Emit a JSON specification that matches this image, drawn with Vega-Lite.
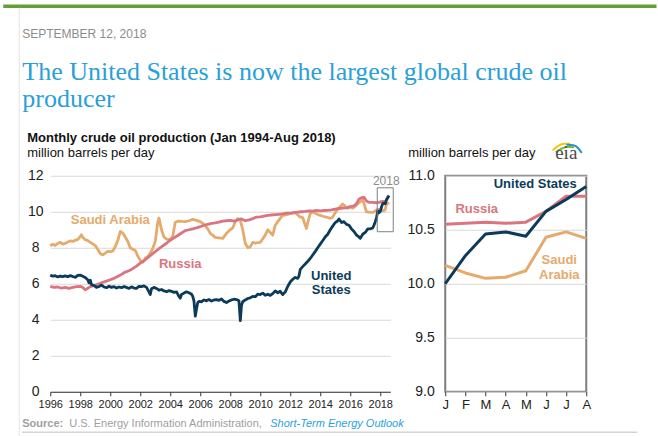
{
  "$schema": "https://vega.github.io/schema/vega-lite/v6.json",
  "padding": {"left": 1.25, "top": 3.75, "right": 0, "bottom": 0},
  "background": "white",
  "config": {
    "view": {"stroke": null},
    "font": "Liberation Sans",
    "axis": {"labelFont": "Liberation Sans", "labelColor": "#222222"}
  },
  "datasets": {
    "hist": [
      {"s":"US","t":1996,"v":6.48},{"s":"US","t":1996.17,"v":6.42},{"s":"US","t":1996.33,"v":6.45},{"s":"US","t":1996.5,"v":6.38},{"s":"US","t":1996.67,"v":6.43},{"s":"US","t":1996.83,"v":6.4},{"s":"US","t":1997,"v":6.44},{"s":"US","t":1997.17,"v":6.39},{"s":"US","t":1997.33,"v":6.45},{"s":"US","t":1997.5,"v":6.4},{"s":"US","t":1997.67,"v":6.36},{"s":"US","t":1997.83,"v":6.46},{"s":"US","t":1998,"v":6.48},{"s":"US","t":1998.17,"v":6.42},{"s":"US","t":1998.33,"v":6.35},{"s":"US","t":1998.5,"v":6.22},{"s":"US","t":1998.58,"v":6.05},{"s":"US","t":1998.67,"v":6.2},{"s":"US","t":1998.75,"v":5.95},{"s":"US","t":1998.92,"v":5.9},{"s":"US","t":1999.08,"v":5.8},{"s":"US","t":1999.25,"v":5.85},{"s":"US","t":1999.42,"v":5.92},{"s":"US","t":1999.58,"v":5.82},{"s":"US","t":1999.75,"v":5.78},{"s":"US","t":1999.92,"v":5.86},{"s":"US","t":2000.08,"v":5.8},{"s":"US","t":2000.25,"v":5.84},{"s":"US","t":2000.42,"v":5.76},{"s":"US","t":2000.58,"v":5.82},{"s":"US","t":2000.75,"v":5.78},{"s":"US","t":2000.92,"v":5.85},{"s":"US","t":2001.08,"v":5.8},{"s":"US","t":2001.25,"v":5.74},{"s":"US","t":2001.42,"v":5.83},{"s":"US","t":2001.58,"v":5.76},{"s":"US","t":2001.75,"v":5.74},{"s":"US","t":2001.92,"v":5.86},{"s":"US","t":2002.08,"v":5.84},{"s":"US","t":2002.25,"v":5.88},{"s":"US","t":2002.42,"v":5.8},{"s":"US","t":2002.58,"v":5.55},{"s":"US","t":2002.67,"v":5.4},{"s":"US","t":2002.75,"v":5.72},{"s":"US","t":2002.92,"v":5.8},{"s":"US","t":2003.08,"v":5.74},{"s":"US","t":2003.25,"v":5.64},{"s":"US","t":2003.42,"v":5.68},{"s":"US","t":2003.58,"v":5.6},{"s":"US","t":2003.75,"v":5.56},{"s":"US","t":2003.92,"v":5.62},{"s":"US","t":2004.08,"v":5.58},{"s":"US","t":2004.25,"v":5.52},{"s":"US","t":2004.42,"v":5.55},{"s":"US","t":2004.58,"v":5.3},{"s":"US","t":2004.67,"v":5.2},{"s":"US","t":2004.75,"v":5.4},{"s":"US","t":2004.92,"v":5.48},{"s":"US","t":2005.08,"v":5.55},{"s":"US","t":2005.25,"v":5.5},{"s":"US","t":2005.42,"v":5.42},{"s":"US","t":2005.5,"v":5.3},{"s":"US","t":2005.58,"v":5.05},{"s":"US","t":2005.67,"v":4.2},{"s":"US","t":2005.75,"v":4.6},{"s":"US","t":2005.83,"v":4.95},{"s":"US","t":2005.92,"v":5.02},{"s":"US","t":2006.08,"v":5.0},{"s":"US","t":2006.25,"v":5.1},{"s":"US","t":2006.42,"v":5.05},{"s":"US","t":2006.58,"v":5.12},{"s":"US","t":2006.75,"v":5.04},{"s":"US","t":2006.92,"v":5.1},{"s":"US","t":2007.08,"v":5.12},{"s":"US","t":2007.25,"v":5.08},{"s":"US","t":2007.42,"v":5.15},{"s":"US","t":2007.58,"v":5.02},{"s":"US","t":2007.75,"v":4.96},{"s":"US","t":2007.92,"v":5.04},{"s":"US","t":2008.08,"v":5.1},{"s":"US","t":2008.25,"v":5.14},{"s":"US","t":2008.42,"v":5.12},{"s":"US","t":2008.58,"v":5.05},{"s":"US","t":2008.67,"v":3.95},{"s":"US","t":2008.75,"v":4.8},{"s":"US","t":2008.83,"v":5.0},{"s":"US","t":2009,"v":5.1},{"s":"US","t":2009.17,"v":5.18},{"s":"US","t":2009.33,"v":5.22},{"s":"US","t":2009.5,"v":5.3},{"s":"US","t":2009.67,"v":5.28},{"s":"US","t":2009.83,"v":5.42},{"s":"US","t":2010,"v":5.4},{"s":"US","t":2010.17,"v":5.48},{"s":"US","t":2010.33,"v":5.36},{"s":"US","t":2010.5,"v":5.42},{"s":"US","t":2010.67,"v":5.35},{"s":"US","t":2010.83,"v":5.45},{"s":"US","t":2011,"v":5.6},{"s":"US","t":2011.17,"v":5.5},{"s":"US","t":2011.33,"v":5.58},{"s":"US","t":2011.5,"v":5.4},{"s":"US","t":2011.67,"v":5.55},{"s":"US","t":2011.83,"v":5.85},{"s":"US","t":2012,"v":6.1},{"s":"US","t":2012.17,"v":6.25},{"s":"US","t":2012.33,"v":6.35},{"s":"US","t":2012.5,"v":6.3},{"s":"US","t":2012.58,"v":6.42},{"s":"US","t":2012.67,"v":6.8},{"s":"US","t":2012.83,"v":6.95},{"s":"US","t":2013,"v":7.1},{"s":"US","t":2013.17,"v":7.25},{"s":"US","t":2013.33,"v":7.4},{"s":"US","t":2013.5,"v":7.6},{"s":"US","t":2013.67,"v":7.8},{"s":"US","t":2013.83,"v":8.0},{"s":"US","t":2014,"v":8.2},{"s":"US","t":2014.17,"v":8.4},{"s":"US","t":2014.33,"v":8.6},{"s":"US","t":2014.5,"v":8.75},{"s":"US","t":2014.67,"v":9.0},{"s":"US","t":2014.83,"v":9.2},{"s":"US","t":2015,"v":9.4},{"s":"US","t":2015.17,"v":9.5},{"s":"US","t":2015.25,"v":9.6},{"s":"US","t":2015.42,"v":9.4},{"s":"US","t":2015.58,"v":9.45},{"s":"US","t":2015.75,"v":9.3},{"s":"US","t":2015.92,"v":9.25},{"s":"US","t":2016.08,"v":9.05},{"s":"US","t":2016.25,"v":8.9},{"s":"US","t":2016.42,"v":8.7},{"s":"US","t":2016.58,"v":8.6},{"s":"US","t":2016.67,"v":8.52},{"s":"US","t":2016.83,"v":8.75},{"s":"US","t":2017,"v":8.85},{"s":"US","t":2017.17,"v":9.05},{"s":"US","t":2017.33,"v":9.05},{"s":"US","t":2017.5,"v":9.1},{"s":"US","t":2017.58,"v":9.25},{"s":"US","t":2017.67,"v":9.45},{"s":"US","t":2017.75,"v":9.65},{"s":"US","t":2017.83,"v":10.05},{"s":"US","t":2017.92,"v":9.95},{"s":"US","t":2018,"v":10.0},{"s":"US","t":2018.083,"v":10.26},{"s":"US","t":2018.167,"v":10.46},{"s":"US","t":2018.25,"v":10.48},{"s":"US","t":2018.333,"v":10.44},{"s":"US","t":2018.417,"v":10.67},{"s":"US","t":2018.5,"v":10.78},{"s":"US","t":2018.583,"v":10.9},
      {"s":"RU","t":1996,"v":5.85},{"s":"RU","t":1996.25,"v":5.8},{"s":"RU","t":1996.5,"v":5.82},{"s":"RU","t":1996.75,"v":5.76},{"s":"RU","t":1997,"v":5.8},{"s":"RU","t":1997.25,"v":5.74},{"s":"RU","t":1997.5,"v":5.8},{"s":"RU","t":1997.75,"v":5.84},{"s":"RU","t":1998,"v":5.86},{"s":"RU","t":1998.17,"v":5.8},{"s":"RU","t":1998.33,"v":5.66},{"s":"RU","t":1998.5,"v":5.75},{"s":"RU","t":1998.67,"v":5.84},{"s":"RU","t":1998.83,"v":5.88},{"s":"RU","t":1999,"v":5.93},{"s":"RU","t":1999.25,"v":6.0},{"s":"RU","t":1999.5,"v":6.08},{"s":"RU","t":1999.75,"v":6.15},{"s":"RU","t":2000,"v":6.22},{"s":"RU","t":2000.25,"v":6.3},{"s":"RU","t":2000.5,"v":6.4},{"s":"RU","t":2000.75,"v":6.52},{"s":"RU","t":2001,"v":6.65},{"s":"RU","t":2001.25,"v":6.72},{"s":"RU","t":2001.5,"v":6.84},{"s":"RU","t":2001.75,"v":6.98},{"s":"RU","t":2002,"v":7.15},{"s":"RU","t":2002.25,"v":7.28},{"s":"RU","t":2002.5,"v":7.45},{"s":"RU","t":2002.75,"v":7.62},{"s":"RU","t":2003,"v":7.78},{"s":"RU","t":2003.25,"v":7.95},{"s":"RU","t":2003.5,"v":8.1},{"s":"RU","t":2003.75,"v":8.25},{"s":"RU","t":2004,"v":8.42},{"s":"RU","t":2004.25,"v":8.55},{"s":"RU","t":2004.5,"v":8.68},{"s":"RU","t":2004.75,"v":8.82},{"s":"RU","t":2005,"v":8.95},{"s":"RU","t":2005.25,"v":9.0},{"s":"RU","t":2005.5,"v":9.05},{"s":"RU","t":2005.75,"v":9.1},{"s":"RU","t":2006,"v":9.17},{"s":"RU","t":2006.25,"v":9.25},{"s":"RU","t":2006.5,"v":9.3},{"s":"RU","t":2006.75,"v":9.35},{"s":"RU","t":2007,"v":9.38},{"s":"RU","t":2007.25,"v":9.42},{"s":"RU","t":2007.5,"v":9.48},{"s":"RU","t":2007.75,"v":9.5},{"s":"RU","t":2008,"v":9.52},{"s":"RU","t":2008.25,"v":9.48},{"s":"RU","t":2008.5,"v":9.55},{"s":"RU","t":2008.75,"v":9.6},{"s":"RU","t":2009,"v":9.5},{"s":"RU","t":2009.25,"v":9.55},{"s":"RU","t":2009.5,"v":9.62},{"s":"RU","t":2009.75,"v":9.7},{"s":"RU","t":2010,"v":9.72},{"s":"RU","t":2010.25,"v":9.76},{"s":"RU","t":2010.5,"v":9.8},{"s":"RU","t":2010.75,"v":9.82},{"s":"RU","t":2011,"v":9.84},{"s":"RU","t":2011.25,"v":9.86},{"s":"RU","t":2011.5,"v":9.88},{"s":"RU","t":2011.75,"v":9.92},{"s":"RU","t":2012,"v":9.92},{"s":"RU","t":2012.25,"v":9.95},{"s":"RU","t":2012.5,"v":9.98},{"s":"RU","t":2012.75,"v":10.0},{"s":"RU","t":2013,"v":10.02},{"s":"RU","t":2013.25,"v":10.05},{"s":"RU","t":2013.5,"v":10.04},{"s":"RU","t":2013.75,"v":10.08},{"s":"RU","t":2014,"v":10.05},{"s":"RU","t":2014.25,"v":10.07},{"s":"RU","t":2014.5,"v":10.08},{"s":"RU","t":2014.75,"v":10.1},{"s":"RU","t":2015,"v":10.15},{"s":"RU","t":2015.25,"v":10.18},{"s":"RU","t":2015.5,"v":10.2},{"s":"RU","t":2015.75,"v":10.22},{"s":"RU","t":2016,"v":10.28},{"s":"RU","t":2016.25,"v":10.32},{"s":"RU","t":2016.42,"v":10.45},{"s":"RU","t":2016.58,"v":10.7},{"s":"RU","t":2016.75,"v":10.78},{"s":"RU","t":2016.92,"v":10.8},{"s":"RU","t":2017.08,"v":10.6},{"s":"RU","t":2017.25,"v":10.52},{"s":"RU","t":2017.5,"v":10.52},{"s":"RU","t":2017.75,"v":10.5},{"s":"RU","t":2017.92,"v":10.52},{"s":"RU","t":2018,"v":10.55},{"s":"RU","t":2018.083,"v":10.56},{"s":"RU","t":2018.167,"v":10.57},{"s":"RU","t":2018.25,"v":10.56},{"s":"RU","t":2018.333,"v":10.57},{"s":"RU","t":2018.417,"v":10.67},{"s":"RU","t":2018.5,"v":10.81},{"s":"RU","t":2018.583,"v":10.81},
      {"s":"SA","t":1996,"v":8.1},{"s":"SA","t":1996.17,"v":8.2},{"s":"SA","t":1996.33,"v":8.12},{"s":"SA","t":1996.5,"v":8.25},{"s":"SA","t":1996.67,"v":8.3},{"s":"SA","t":1996.83,"v":8.2},{"s":"SA","t":1997,"v":8.24},{"s":"SA","t":1997.17,"v":8.32},{"s":"SA","t":1997.33,"v":8.38},{"s":"SA","t":1997.5,"v":8.35},{"s":"SA","t":1997.67,"v":8.42},{"s":"SA","t":1997.83,"v":8.45},{"s":"SA","t":1998,"v":8.62},{"s":"SA","t":1998.08,"v":8.72},{"s":"SA","t":1998.17,"v":8.58},{"s":"SA","t":1998.33,"v":8.45},{"s":"SA","t":1998.5,"v":8.4},{"s":"SA","t":1998.67,"v":8.3},{"s":"SA","t":1998.83,"v":8.22},{"s":"SA","t":1999,"v":8.12},{"s":"SA","t":1999.17,"v":7.9},{"s":"SA","t":1999.33,"v":7.68},{"s":"SA","t":1999.5,"v":7.6},{"s":"SA","t":1999.67,"v":7.7},{"s":"SA","t":1999.83,"v":7.8},{"s":"SA","t":2000,"v":7.78},{"s":"SA","t":2000.17,"v":7.82},{"s":"SA","t":2000.33,"v":8.05},{"s":"SA","t":2000.5,"v":8.4},{"s":"SA","t":2000.67,"v":8.9},{"s":"SA","t":2000.83,"v":8.82},{"s":"SA","t":2001,"v":8.6},{"s":"SA","t":2001.17,"v":8.35},{"s":"SA","t":2001.33,"v":8.0},{"s":"SA","t":2001.5,"v":7.92},{"s":"SA","t":2001.67,"v":7.85},{"s":"SA","t":2001.83,"v":7.55},{"s":"SA","t":2002,"v":7.3},{"s":"SA","t":2002.17,"v":7.2},{"s":"SA","t":2002.33,"v":7.42},{"s":"SA","t":2002.5,"v":7.5},{"s":"SA","t":2002.67,"v":7.7},{"s":"SA","t":2002.83,"v":7.95},{"s":"SA","t":2003,"v":8.35},{"s":"SA","t":2003.17,"v":9.45},{"s":"SA","t":2003.25,"v":9.65},{"s":"SA","t":2003.42,"v":9.0},{"s":"SA","t":2003.58,"v":8.6},{"s":"SA","t":2003.75,"v":8.48},{"s":"SA","t":2004,"v":8.45},{"s":"SA","t":2004.17,"v":8.65},{"s":"SA","t":2004.33,"v":9.4},{"s":"SA","t":2004.5,"v":9.48},{"s":"SA","t":2004.75,"v":9.46},{"s":"SA","t":2005,"v":9.45},{"s":"SA","t":2005.25,"v":9.5},{"s":"SA","t":2005.5,"v":9.58},{"s":"SA","t":2005.75,"v":9.52},{"s":"SA","t":2006,"v":9.45},{"s":"SA","t":2006.25,"v":9.3},{"s":"SA","t":2006.5,"v":9.05},{"s":"SA","t":2006.67,"v":8.8},{"s":"SA","t":2006.83,"v":8.7},{"s":"SA","t":2007,"v":8.58},{"s":"SA","t":2007.25,"v":8.55},{"s":"SA","t":2007.5,"v":8.52},{"s":"SA","t":2007.75,"v":8.8},{"s":"SA","t":2008,"v":9.0},{"s":"SA","t":2008.17,"v":9.1},{"s":"SA","t":2008.33,"v":9.45},{"s":"SA","t":2008.5,"v":9.62},{"s":"SA","t":2008.67,"v":9.55},{"s":"SA","t":2008.83,"v":9.0},{"s":"SA","t":2009,"v":8.25},{"s":"SA","t":2009.17,"v":8.0},{"s":"SA","t":2009.33,"v":8.05},{"s":"SA","t":2009.5,"v":8.3},{"s":"SA","t":2009.67,"v":8.25},{"s":"SA","t":2009.83,"v":8.28},{"s":"SA","t":2010,"v":8.3},{"s":"SA","t":2010.17,"v":8.5},{"s":"SA","t":2010.33,"v":8.7},{"s":"SA","t":2010.5,"v":9.0},{"s":"SA","t":2010.67,"v":8.85},{"s":"SA","t":2010.83,"v":8.7},{"s":"SA","t":2011,"v":9.25},{"s":"SA","t":2011.17,"v":9.45},{"s":"SA","t":2011.33,"v":9.63},{"s":"SA","t":2011.5,"v":9.8},{"s":"SA","t":2011.67,"v":9.82},{"s":"SA","t":2011.83,"v":9.85},{"s":"SA","t":2012,"v":9.9},{"s":"SA","t":2012.17,"v":9.92},{"s":"SA","t":2012.33,"v":9.96},{"s":"SA","t":2012.5,"v":9.82},{"s":"SA","t":2012.67,"v":9.7},{"s":"SA","t":2012.83,"v":9.68},{"s":"SA","t":2013,"v":9.25},{"s":"SA","t":2013.08,"v":9.07},{"s":"SA","t":2013.17,"v":9.4},{"s":"SA","t":2013.33,"v":9.9},{"s":"SA","t":2013.5,"v":10.0},{"s":"SA","t":2013.67,"v":9.92},{"s":"SA","t":2013.83,"v":9.85},{"s":"SA","t":2014,"v":9.8},{"s":"SA","t":2014.17,"v":9.75},{"s":"SA","t":2014.33,"v":9.72},{"s":"SA","t":2014.5,"v":9.68},{"s":"SA","t":2014.67,"v":9.63},{"s":"SA","t":2014.83,"v":9.7},{"s":"SA","t":2015,"v":9.95},{"s":"SA","t":2015.17,"v":10.15},{"s":"SA","t":2015.33,"v":10.28},{"s":"SA","t":2015.5,"v":10.43},{"s":"SA","t":2015.67,"v":10.3},{"s":"SA","t":2015.83,"v":10.2},{"s":"SA","t":2016,"v":10.25},{"s":"SA","t":2016.17,"v":10.2},{"s":"SA","t":2016.33,"v":10.3},{"s":"SA","t":2016.5,"v":10.45},{"s":"SA","t":2016.67,"v":10.56},{"s":"SA","t":2016.83,"v":10.65},{"s":"SA","t":2016.92,"v":10.45},{"s":"SA","t":2017.08,"v":10.0},{"s":"SA","t":2017.25,"v":9.98},{"s":"SA","t":2017.5,"v":9.96},{"s":"SA","t":2017.67,"v":10.04},{"s":"SA","t":2017.83,"v":10.15},{"s":"SA","t":2017.92,"v":10.1},{"s":"SA","t":2018,"v":10.17},{"s":"SA","t":2018.083,"v":10.1},{"s":"SA","t":2018.167,"v":10.05},{"s":"SA","t":2018.25,"v":10.06},{"s":"SA","t":2018.333,"v":10.12},{"s":"SA","t":2018.417,"v":10.43},{"s":"SA","t":2018.5,"v":10.48},{"s":"SA","t":2018.583,"v":10.42}
    ],
    "y2018": [
      {"s":"US","m":1,"v":10.0},{"s":"US","m":2,"v":10.26},{"s":"US","m":3,"v":10.46},{"s":"US","m":4,"v":10.48},{"s":"US","m":5,"v":10.44},{"s":"US","m":6,"v":10.67},{"s":"US","m":7,"v":10.78},{"s":"US","m":8,"v":10.9},
      {"s":"RU","m":1,"v":10.55},{"s":"RU","m":2,"v":10.56},{"s":"RU","m":3,"v":10.57},{"s":"RU","m":4,"v":10.56},{"s":"RU","m":5,"v":10.57},{"s":"RU","m":6,"v":10.67},{"s":"RU","m":7,"v":10.81},{"s":"RU","m":8,"v":10.81},
      {"s":"SA","m":1,"v":10.17},{"s":"SA","m":2,"v":10.1},{"s":"SA","m":3,"v":10.05},{"s":"SA","m":4,"v":10.06},{"s":"SA","m":5,"v":10.12},{"s":"SA","m":6,"v":10.43},{"s":"SA","m":7,"v":10.48},{"s":"SA","m":8,"v":10.42}
    ],
    "logo": [
      {"arc":"yellow","o":1,"m":6.362,"v":11.24},{"arc":"yellow","o":2,"m":6.61,"v":11.276},{"arc":"yellow","o":3,"m":6.909,"v":11.296},{"arc":"yellow","o":4,"m":7.157,"v":11.296},
      {"arc":"green","o":1,"m":6.511,"v":11.222},{"arc":"green","o":2,"m":6.759,"v":11.25},{"arc":"green","o":3,"m":7.057,"v":11.269},{"arc":"green","o":4,"m":7.355,"v":11.264},
      {"arc":"blue","o":1,"m":7.057,"v":11.287},{"arc":"blue","o":2,"m":7.355,"v":11.282},{"arc":"blue","o":3,"m":7.603,"v":11.255},{"arc":"blue","o":4,"m":7.752,"v":11.218}
    ]
  },
  "spacing": 55,
  "bounds": "flush",
  "hconcat": [
    {
      "width": 340,
      "height": 216,
      "encoding": {
        "x": {"field": "t", "type": "quantitative", "scale": {"domain": [1996, 2018.667], "nice": false, "zero": false},
              "axis": {"title": null, "values": [1996,1998,2000,2002,2004,2006,2008,2010,2012,2014,2016,2018], "format": "d", "grid": false, "labelFontSize": 11, "labelPadding": 3, "tickSize": 4, "tickColor": "#333333", "domainColor": "#333333", "labelFlush": false, "labelOverlap": false}},
        "y": {"field": "v", "type": "quantitative", "scale": {"domain": [0, 12], "nice": false},
              "axis": {"title": null, "values": [0,2,4,6,8,10,12], "grid": true, "gridColor": "#d9d9d9", "domain": false, "ticks": false, "labelAlign": "center", "labelPadding": 15, "labelFontSize": 14, "labelOverlap": false}}
      },
      "layer": [
        {
          "data": {"name": "hist"},
          "transform": [{"filter": "datum.s == 'SA'"}],
          "mark": {"type": "line", "strokeWidth": 2.8, "strokeJoin": "round", "color": "#e5aa6c"}
        },
        {
          "data": {"name": "hist"},
          "transform": [{"filter": "datum.s == 'RU'"}],
          "mark": {"type": "line", "strokeWidth": 2.8, "strokeJoin": "round", "color": "#da7580"}
        },
        {
          "data": {"name": "hist"},
          "transform": [{"filter": "datum.s == 'US'"}],
          "mark": {"type": "line", "strokeWidth": 2.8, "strokeJoin": "round", "color": "#0c3b5a"}
        },
        {
          "data": {"values": [{"t": 2017.8, "v": 11.33, "t2": 2018.867, "v2": 8.89}]},
          "mark": {"type": "rect", "filled": false, "stroke": "#808080", "strokeWidth": 1},
          "encoding": {"x2": {"field": "t2"}, "y2": {"field": "v2"}}
        },
        {
          "data": {"values": [{"t": 2018.4, "v": 11.683, "label": "2018"}]},
          "mark": {"type": "text", "fontSize": 12, "color": "#8c8c8c", "align": "center", "baseline": "middle"},
          "encoding": {"text": {"field": "label"}}
        },
        {
          "data": {"values": [{"t": 2000.0, "v": 9.556, "label": "Saudi Arabia"}]},
          "mark": {"type": "text", "fontSize": 13, "fontWeight": "bold", "color": "#e5aa6c", "align": "center", "baseline": "middle"},
          "encoding": {"text": {"field": "label"}}
        },
        {
          "data": {"values": [{"t": 2004.667, "v": 7.111, "label": "Russia"}]},
          "mark": {"type": "text", "fontSize": 13, "fontWeight": "bold", "color": "#da7580", "align": "center", "baseline": "middle"},
          "encoding": {"text": {"field": "label"}}
        },
        {
          "data": {"values": [{"t": 2014.733, "v": 6.444, "label": "United"}, {"t": 2014.733, "v": 5.667, "label": "States"}]},
          "mark": {"type": "text", "fontSize": 13, "fontWeight": "bold", "color": "#0c3b5a", "align": "center", "baseline": "middle"},
          "encoding": {"text": {"field": "label"}}
        },
        {
          "data": {"values": [{"t": 1994.467, "v": 14.111, "label": "Monthly crude oil production (Jan 1994-Aug 2018)"}]},
          "mark": {"type": "text", "fontSize": 13, "fontWeight": "bold", "color": "#111111", "align": "left", "baseline": "middle"},
          "encoding": {"text": {"field": "label"}}
        },
        {
          "data": {"values": [{"t": 1994.467, "v": 13.278, "label": "million barrels per day"}]},
          "mark": {"type": "text", "fontSize": 13, "color": "#111111", "align": "left", "baseline": "middle"},
          "encoding": {"text": {"field": "label"}}
        },
        {
          "data": {"values": [{"t": 1994.133, "v": 19.889, "label": "SEPTEMBER 12, 2018"}]},
          "mark": {"type": "text", "fontSize": 12, "color": "#8c8c8c", "align": "left", "baseline": "middle"},
          "encoding": {"text": {"field": "label"}}
        },
        {
          "data": {"values": [{"t": 1994.133, "v": 17.3, "label": "The United States is now the largest global crude oil"}, {"t": 1994.133, "v": 15.8, "label": "producer"}]},
          "mark": {"type": "text", "font": "Liberation Serif", "fontSize": 26, "color": "#2a9fd8", "align": "left", "baseline": "alphabetic"},
          "encoding": {"text": {"field": "label"}}
        },
        {
          "data": {"values": [{"t": 1994.133, "v": -1.778, "label": "Source:"}]},
          "mark": {"type": "text", "fontSize": 11, "fontWeight": "bold", "color": "#a0a0a0", "align": "left", "baseline": "middle"},
          "encoding": {"text": {"field": "label"}}
        },
        {
          "data": {"values": [{"t": 1997.267, "v": -1.778, "label": "U.S. Energy Information Administration,"}]},
          "mark": {"type": "text", "fontSize": 11, "color": "#a0a0a0", "align": "left", "baseline": "middle"},
          "encoding": {"text": {"field": "label"}}
        },
        {
          "data": {"values": [{"t": 2010.667, "v": -1.778, "label": "Short-Term Energy Outlook"}]},
          "mark": {"type": "text", "fontSize": 11, "fontStyle": "italic", "color": "#2a9fe0", "align": "left", "baseline": "middle"},
          "encoding": {"text": {"field": "label"}}
        },
        {
          "data": {"values": [{"t": 1992.867, "t2": 2036.417, "v": 21.417}]},
          "mark": {"type": "rule", "color": "#62a036", "strokeWidth": 3.5},
          "encoding": {"x2": {"field": "t2"}}
        },
        {
          "data": {"values": [{"t": 1993.933, "v": 21.333, "v2": -2.444}]},
          "mark": {"type": "rule", "color": "#e3e3e3", "strokeWidth": 1},
          "encoding": {"y2": {"field": "v2"}}
        },
        {
          "data": {"values": [{"t": 1994.133, "t2": 2035.133, "v": -2.25}]},
          "mark": {"type": "rule", "color": "#d4d4d4", "strokeWidth": 1.5},
          "encoding": {"x2": {"field": "t2"}}
        }
      ]
    },
    {
      "width": 141,
      "height": 216,
      "view": {"stroke": "#7f7f7f", "strokeWidth": 2},
      "encoding": {
        "x": {"field": "m", "type": "quantitative", "scale": {"domain": [1, 8], "nice": false, "zero": false},
              "axis": {"title": null, "values": [1,2,3,4,5,6,7,8], "labelExpr": "['J','F','M','A','M','J','J','A'][datum.value - 1]", "grid": false, "domain": false, "labelFontSize": 13, "labelPadding": 3, "tickSize": 4, "tickColor": "#333333", "labelFlush": false, "labelOverlap": false}},
        "y": {"field": "v", "type": "quantitative", "scale": {"domain": [9, 11], "nice": false, "zero": false},
              "axis": {"title": null, "values": [9, 9.5, 10, 10.5, 11], "format": ".1f", "grid": true, "gridColor": "#d9d9d9", "domain": false, "ticks": false, "labelPadding": 11, "labelFontSize": 14, "labelOverlap": false}}
      },
      "layer": [
        {
          "data": {"name": "y2018"},
          "transform": [{"filter": "datum.s == 'SA'"}],
          "mark": {"type": "line", "strokeWidth": 3, "strokeJoin": "round", "color": "#e5aa6c"}
        },
        {
          "data": {"name": "y2018"},
          "transform": [{"filter": "datum.s == 'RU'"}],
          "mark": {"type": "line", "strokeWidth": 3, "strokeJoin": "round", "color": "#da7580"}
        },
        {
          "data": {"name": "y2018"},
          "transform": [{"filter": "datum.s == 'US'"}],
          "mark": {"type": "line", "strokeWidth": 3, "strokeJoin": "round", "color": "#0c3b5a"}
        },
        {
          "data": {"values": [{"m": 5.468, "v": 10.926, "label": "United States"}]},
          "mark": {"type": "text", "fontSize": 13, "fontWeight": "bold", "color": "#0c3b5a", "align": "center", "baseline": "middle"},
          "encoding": {"text": {"field": "label"}}
        },
        {
          "data": {"values": [{"m": 2.564, "v": 10.694, "label": "Russia"}]},
          "mark": {"type": "text", "fontSize": 13, "fontWeight": "bold", "color": "#da7580", "align": "center", "baseline": "middle"},
          "encoding": {"text": {"field": "label"}}
        },
        {
          "data": {"values": [{"m": 6.66, "v": 10.222, "label": "Saudi"}, {"m": 6.66, "v": 10.083, "label": "Arabia"}]},
          "mark": {"type": "text", "fontSize": 13, "fontWeight": "bold", "color": "#e5aa6c", "align": "center", "baseline": "middle"},
          "encoding": {"text": {"field": "label"}}
        },
        {
          "data": {"values": [{"m": -0.837, "v": 11.213, "label": "million barrels per day"}]},
          "mark": {"type": "text", "fontSize": 13, "color": "#111111", "align": "left", "baseline": "middle"},
          "encoding": {"text": {"field": "label"}}
        },
        {
          "data": {"name": "logo"},
          "mark": {"type": "line", "strokeWidth": 2, "interpolate": "monotone", "strokeCap": "round"},
          "encoding": {
            "color": {"field": "arc", "type": "nominal", "scale": {"domain": ["yellow", "green", "blue"], "range": ["#f3c316", "#7cb83e", "#2b8fd0"]}, "legend": null},
            "order": {"field": "o", "type": "quantitative"}
          }
        },
        {
          "data": {"values": [{"m": 7.007, "v": 11.157, "label": "eia"}]},
          "mark": {"type": "text", "font": "Liberation Serif", "fontSize": 19, "color": "#4a4a4a", "align": "center", "baseline": "alphabetic"},
          "encoding": {"text": {"field": "label"}}
        }
      ]
    }
  ]
}
